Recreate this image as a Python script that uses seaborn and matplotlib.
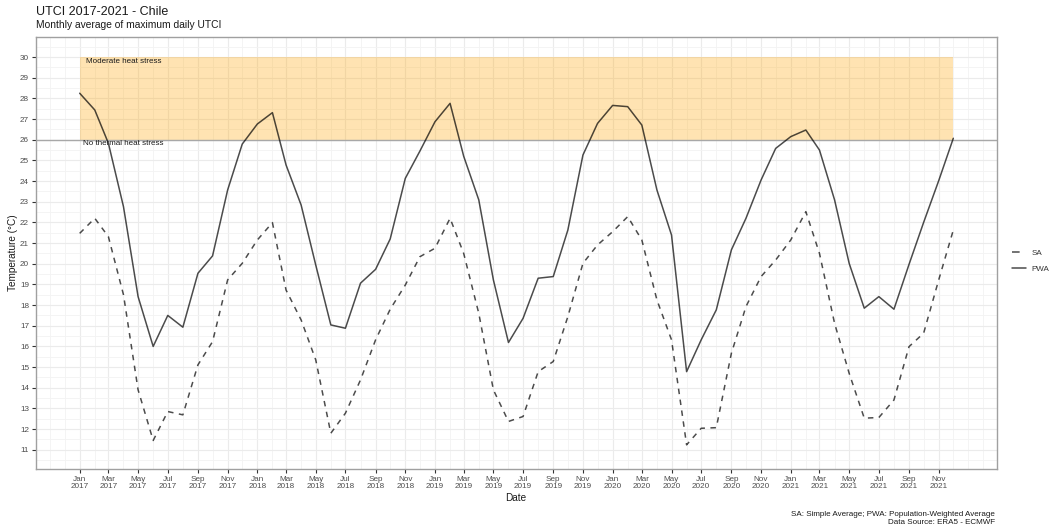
import numpy as np
import pandas as pd
import matplotlib
matplotlib.use("Agg")
import matplotlib.pyplot as plt
import matplotlib.dates as mdates
from matplotlib.ticker import FixedLocator, MultipleLocator
from matplotlib.lines import Line2D
import seaborn as sns

# Monthly average of maximum daily UTCI (°C), Jan 2017 - Dec 2021
months = pd.date_range("2017-01-01", periods=60, freq="MS")

pwa = [
    28.25, 27.44, 25.83, 22.76, 18.41, 16.00, 17.50, 16.93, 19.54, 20.38, 23.57, 25.79,  # 2017
    26.76, 27.31, 24.78, 22.84, 19.94, 17.04, 16.88, 19.06, 19.73, 21.20, 24.13, 25.45,  # 2018
    26.87, 27.76, 25.20, 23.09, 19.22, 16.19, 17.36, 19.30, 19.38, 21.63, 25.26, 26.79,  # 2019
    27.66, 27.60, 26.71, 23.57, 21.39, 14.78, 16.32, 17.77, 20.67, 22.20, 24.05, 25.58,  # 2020
    26.15, 26.47, 25.50, 23.09, 20.02, 17.85, 18.41, 17.80, 19.97, 22.00, 24.02, 26.07,  # 2021
]

sa = [
    21.47, 22.20, 21.31, 18.50, 13.90, 11.45, 12.85, 12.69, 15.11, 16.23, 19.22, 20.02,  # 2017
    21.15, 21.99, 18.73, 17.28, 15.35, 11.80, 12.77, 14.38, 16.32, 17.80, 18.97, 20.34,  # 2018
    20.75, 22.20, 20.50, 17.60, 13.90, 12.37, 12.61, 14.78, 15.27, 17.44, 20.02, 20.91,  # 2019
    21.55, 22.28, 21.15, 18.25, 16.32, 11.24, 12.04, 12.07, 15.67, 17.93, 19.38, 20.18,  # 2020
    21.15, 22.52, 20.50, 17.12, 14.70, 12.53, 12.56, 13.41, 15.99, 16.64, 19.22, 21.63,  # 2021
]

series_names = ["SA", "PWA"]
y_ticks = list(range(11, 31))
x_tick_dates = pd.date_range("2017-01-01", "2021-11-01", freq="2MS")
stress_low, stress_high = 26, 30
stress_labels = ["Moderate heat stress", "No thermal heat stress"]

df = pd.DataFrame({
    "Date": list(months) * 2,
    "Temperature": sa + pwa,
    "Series": ["SA"] * len(sa) + ["PWA"] * len(pwa),
})

sns.set_theme(style="white")
plt.rcParams["font.family"] = ["Liberation Sans", "DejaVu Sans"]

W, H = 1056, 531
fig = plt.figure(figsize=(W / 100, H / 100), dpi=100)
fig.patch.set_facecolor("white")
ax = fig.add_axes([36 / W, 1 - 469 / H, (997 - 36) / W, (469 - 37) / H])

# heat-stress band and its threshold line
ax.fill_between([months[0], months[-1]], stress_low, stress_high,
                color="orange", alpha=0.3, lw=0, zorder=2)
ax.axhline(stress_low, color="#a8a8a8", lw=1.0, zorder=2.5)

dash_map = {"SA": (3.6, 3.6), "PWA": ""}
sns.lineplot(data=df, x="Date", y="Temperature", style="Series",
             style_order=series_names, dashes=dash_map, color="black",
             alpha=0.7, lw=1.1, ax=ax, legend=False, zorder=3)

ax.text(pd.Timestamp("2017-01-14"), 29.8, stress_labels[0], fontsize=5.8,
        color="#1a1a1a", ha="left", va="center", zorder=4)
ax.text(pd.Timestamp("2017-01-08"), 25.8, stress_labels[1], fontsize=5.8,
        color="#1a1a1a", ha="left", va="center", zorder=4)

# axes limits and ticks
x0, x1 = mdates.date2num(months[0]), mdates.date2num(months[-1])
pad = (x1 - x0) * 0.05
ax.set_xlim(x0 - pad, x1 + pad)
ax.set_ylim(10.07, 30.97)

ax.yaxis.set_major_locator(FixedLocator(y_ticks))
ax.yaxis.set_minor_locator(MultipleLocator(0.5))
ax.xaxis.set_major_locator(FixedLocator(mdates.date2num(x_tick_dates)))
ax.xaxis.set_minor_locator(mdates.MonthLocator())
ax.xaxis.set_major_formatter(mdates.DateFormatter("%b\n%Y"))

ax.grid(which="major", color="#ebebeb", lw=0.8, zorder=0)
ax.grid(which="minor", color="#f3f3f3", lw=0.6, zorder=0)
ax.set_axisbelow(True)

ax.tick_params(which="major", bottom=True, left=True, length=3, width=0.8,
               color="#333333", labelsize=5.9, labelcolor="#4d4d4d", pad=2)
ax.tick_params(which="minor", length=0)
for lab in ax.get_xticklabels():
    lab.set_linespacing(1.0)

for sp in ax.spines.values():
    sp.set_visible(True)
    sp.set_color("#a0a0a0")
    sp.set_linewidth(1.0)

ax.set_xlabel("")
ax.set_ylabel("")

# titles, axis titles, caption
fig.text(36 / W, 1 - 15 / H, "UTCI 2017-2021 - Chile", fontsize=9,
         color="#1a1a1a", ha="left", va="baseline")
fig.text(36 / W, 1 - 28.5 / H, "Monthly average of maximum daily UTCI",
         fontsize=7.4, color="#1a1a1a", ha="left", va="baseline")
fig.text(13 / W, 1 - 253 / H, "Temperature (°C)", rotation=90, fontsize=7.2,
         color="#1a1a1a", ha="center", va="center")
fig.text(516 / W, 1 - 501 / H, "Date", fontsize=7.2, color="#1a1a1a",
         ha="center", va="baseline")
fig.text(995 / W, 1 - 515.5 / H,
         "SA: Simple Average; PWA: Population-Weighted Average",
         fontsize=5.8, color="#1a1a1a", ha="right", va="baseline")
fig.text(995 / W, 1 - 524.5 / H, "Data Source: ERA5 - ECMWF",
         fontsize=5.8, color="#1a1a1a", ha="right", va="baseline")

# legend
handles = [
    Line2D([], [], color="black", alpha=0.7, lw=1.1, dashes=(5.0, 20.0)),
    Line2D([], [], color="black", alpha=0.7, lw=1.1),
]
fig.legend(handles, series_names, loc="center left",
           bbox_to_anchor=(1008 / W, 1 - 261 / H), frameon=False,
           fontsize=5.8, handlelength=1.7, handletextpad=0.7,
           labelspacing=1.0, labelcolor="#333333", borderpad=0)

fig.savefig("out.png", dpi=100, facecolor="white")
